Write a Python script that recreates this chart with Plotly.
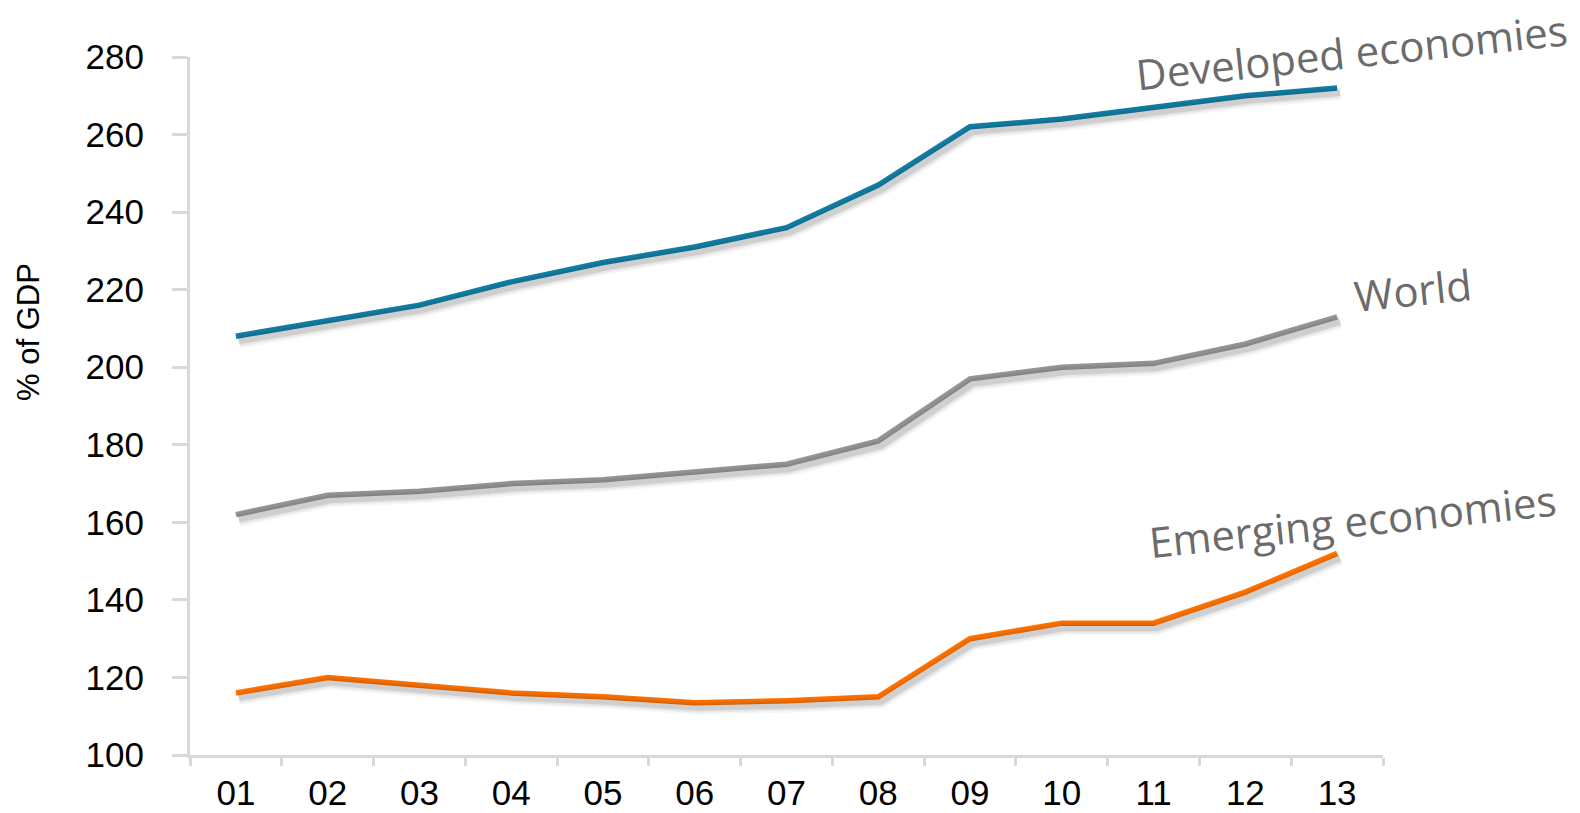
import plotly.graph_objects as go

# Debt as % of GDP, 2001-2013
years = ["01", "02", "03", "04", "05", "06", "07", "08", "09", "10", "11", "12", "13"]
developed = [208, 212, 216, 222, 227, 231, 236, 247, 262, 264, 267, 270, 272]
world = [162, 167, 168, 170, 171, 173, 175, 181, 197, 200, 201, 206, 213]
emerging = [116, 120, 118, 116, 115, 113.5, 114, 115, 130, 134, 134, 142, 152]

y_ticks = [100, 120, 140, 160, 180, 200, 220, 240, 260, 280]

series = [
    ("Developed economies", developed, "#127ea3"),
    ("World", world, "#969696"),
    ("Emerging economies", emerging, "#ff7300"),
]

W, H = 1580, 813
L, R, T, B = 190, 197, 57, 58
pw, ph = W - L - R, H - T - B

fig = go.Figure()

# soft drop shadows drawn on a copy of the axes whose ranges are nudged a few pixels
dx, dy = 3, 5
xs = dx / pw * 13
ys = dy / ph * 180
for name, vals, color in series:
    for width, alpha in [(14, 0.035), (10, 0.06), (6, 0.1)]:
        fig.add_trace(go.Scatter(
            x=years, y=vals, mode="lines", xaxis="x2", yaxis="y2",
            line=dict(color=f"rgba(0,0,0,{alpha})", width=width),
            hoverinfo="skip", showlegend=False,
        ))

for name, vals, color in series:
    fig.add_trace(go.Scatter(
        x=years, y=vals, mode="lines", name=name,
        line=dict(color=color, width=5.5), showlegend=False,
    ))

axis_col = "#d9d9d9"
fig.update_layout(
    width=W, height=H,
    margin=dict(l=L, r=R, t=T, b=B, autoexpand=False),
    paper_bgcolor="white", plot_bgcolor="rgba(0,0,0,0)",
    font=dict(family="Liberation Sans, Arial, sans-serif", color="black"),
    xaxis=dict(
        type="category", categoryarray=years, range=[-0.5, 12.5],
        showgrid=False, zeroline=False, automargin=False,
        showline=True, linecolor=axis_col, linewidth=3,
        ticks="outside", tickson="boundaries", ticklen=8, tickwidth=3, tickcolor=axis_col,
        tickfont=dict(size=35), ticklabelstandoff=5,
    ),
    yaxis=dict(
        range=[100, 280], tickvals=y_ticks,
        showgrid=False, zeroline=False, automargin=False,
        showline=True, linecolor=axis_col, linewidth=3,
        ticks="outside", ticklen=15, tickwidth=3, tickcolor=axis_col,
        tickfont=dict(size=35), ticklabelstandoff=21,
    ),
    xaxis2=dict(
        type="category", categoryarray=years, range=[-0.5 - xs, 12.5 - xs],
        overlaying="x", anchor="y2", visible=False,
    ),
    yaxis2=dict(
        range=[100 + ys, 280 + ys],
        overlaying="y", anchor="x2", visible=False,
    ),
)

fig.add_annotation(
    text="% of GDP", xref="paper", yref="paper", x=0, y=(H - B - 332) / ph,
    xshift=28 - L, xanchor="center", yanchor="middle",
    textangle=-90, showarrow=False,
    font=dict(size=31, color="black"),
)

label_font = dict(family="Open Sans, sans-serif", size=42, color="#6b6b6b")
for text, cx, cy, ang in [
    ("Developed economies", 1351, 52, -6),
    ("World", 1413, 289, -6),
    ("Emerging economies", 1352, 520, -6),
]:
    fig.add_annotation(
        text=text, xref="paper", yref="paper",
        x=(cx - L) / pw, y=(H - B - cy) / ph,
        xanchor="center", yanchor="middle",
        textangle=ang, showarrow=False, font=label_font,
    )

fig.write_html("out.html")
